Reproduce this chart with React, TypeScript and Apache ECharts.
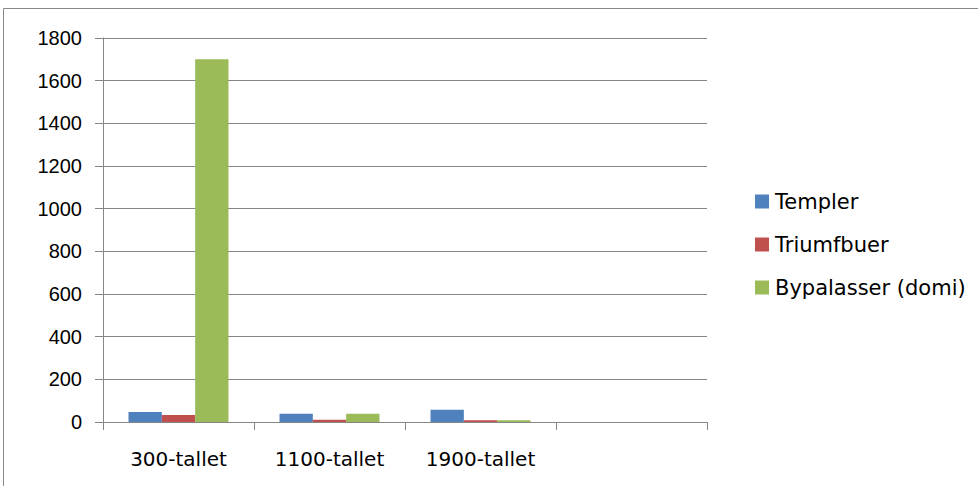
import React, { useEffect, useRef } from "react";
import * as echarts from "echarts";

const categories = ["300-tallet", "1100-tallet", "1900-tallet", ""];
const templer = [47, 39, 58, null];
const triumfbuer = [33, 11, 8, null];
const bypalasser = [1700, 39, 8, null];
const seriesNames = ["Templer", "Triumfbuer", "Bypalasser (domi)"];
const colors = ["#4F81BD", "#C0504D", "#9BBB59"];

export default function App() {
  const ref = useRef<HTMLDivElement>(null);
  useEffect(() => {
    if (!ref.current) return;
    const chart = echarts.init(ref.current, null, { renderer: "svg" });
    const textFont = "'DejaVu Sans', sans-serif";
    const numFont = "'Liberation Sans', Arial, sans-serif";
    chart.setOption({
      animation: false,
      textStyle: { fontFamily: textFont },
      graphic: [
        {
          type: "rect",
          shape: { x: 3.5, y: 8.5, width: 1000, height: 500 },
          style: { fill: "none", stroke: "#888888", lineWidth: 1 },
          silent: true,
        },
      ],
      grid: { left: 103, right: 271, top: 38, bottom: 64 },
      legend: {
        orient: "vertical",
        left: 750,
        top: 186,
        itemWidth: 14,
        itemHeight: 14,
        itemGap: 22,
        icon: "rect",
        textStyle: { fontSize: 21, color: "#000", fontFamily: textFont, padding: [0, 0, 0, 1] },
        data: seriesNames,
      },
      xAxis: {
        type: "category",
        data: categories,
        axisLine: { lineStyle: { color: "#868686" } },
        axisTick: { show: true, length: 8, lineStyle: { color: "#868686" } },
        axisLabel: { fontSize: 20, color: "#000", margin: 27, fontFamily: textFont },
      },
      yAxis: {
        type: "value",
        min: 0,
        max: 1800,
        interval: 200,
        axisLine: { show: true, lineStyle: { color: "#868686" } },
        axisTick: { show: true, length: 8, lineStyle: { color: "#868686" } },
        splitLine: { lineStyle: { color: "#868686" } },
        axisLabel: {
          fontSize: 20,
          color: "#000",
          margin: 21,
          fontFamily: numFont,
          formatter: (v: number) => String(v),
        },
      },
      series: [
        { name: seriesNames[0], type: "bar", data: templer, itemStyle: { color: colors[0] }, barGap: "0%", barCategoryGap: "33.8%" },
        { name: seriesNames[1], type: "bar", data: triumfbuer, itemStyle: { color: colors[1] }, barGap: "0%", barCategoryGap: "33.8%" },
        { name: seriesNames[2], type: "bar", data: bypalasser, itemStyle: { color: colors[2] }, barGap: "0%", barCategoryGap: "33.8%" },
      ],
    });
    return () => chart.dispose();
  }, []);
  return (
    <div
      ref={ref}
      style={{ position: "absolute", left: 0, top: 0, width: 978, height: 486, background: "#fff" }}
    />
  );
}
